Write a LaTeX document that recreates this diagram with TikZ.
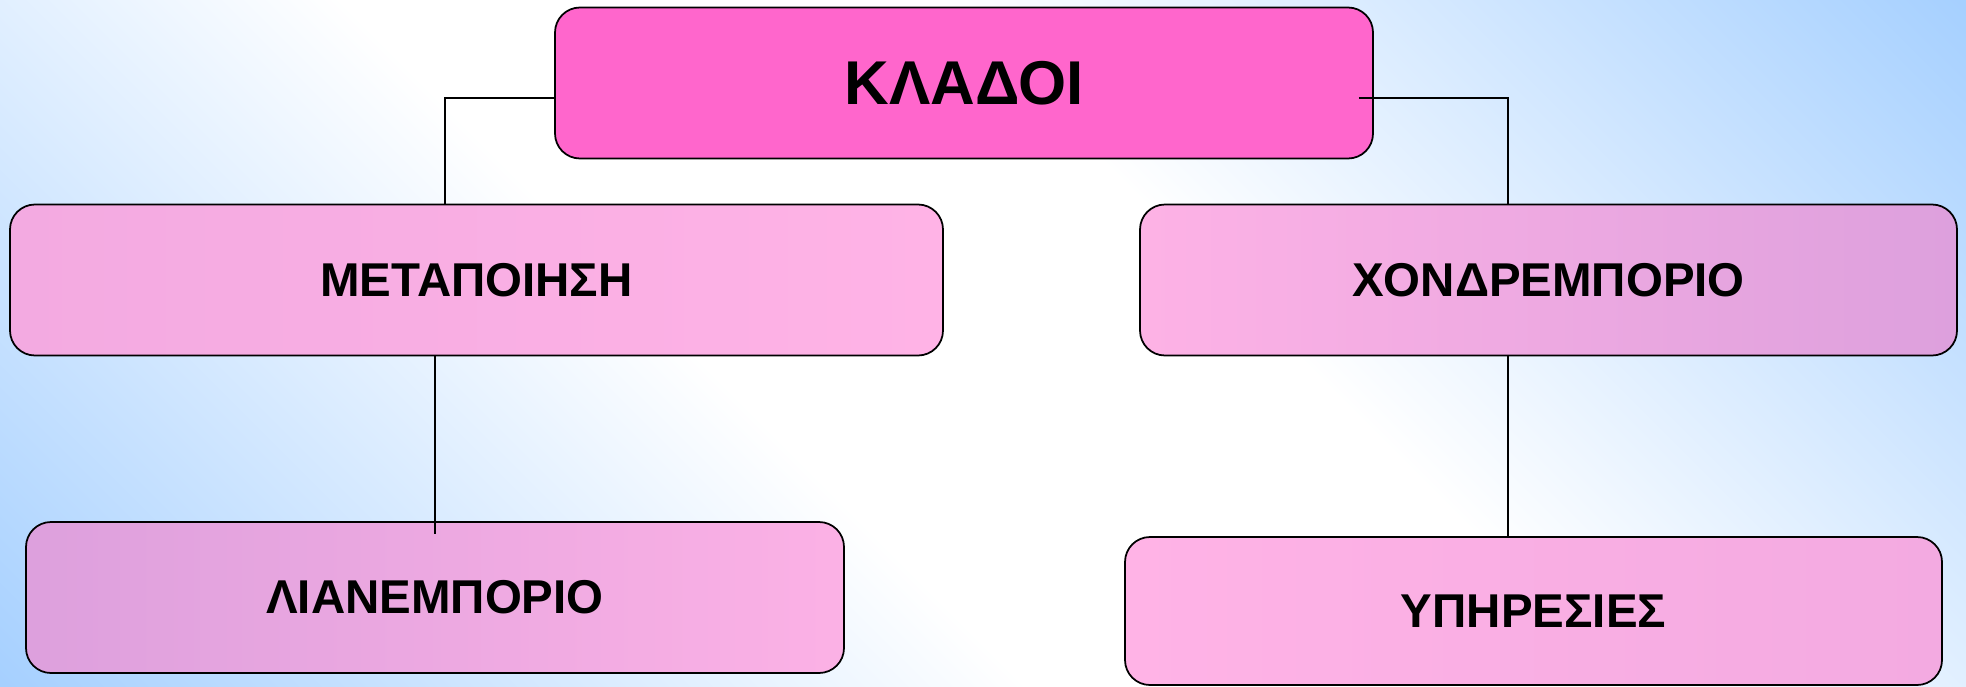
\documentclass[tikz,border=0pt]{standalone}
\usepackage{fontspec}
\setmainfont{Liberation Sans}
\usetikzlibrary{calc}

\definecolor{bgblue}{RGB}{166,208,255}
\definecolor{headpink}{RGB}{255,102,204}
\definecolor{plum}{RGB}{221,160,221}
\definecolor{softpink}{RGB}{255,179,230}
\definecolor{midpink}{RGB}{243,170,225}

\pgfdeclareverticalshading{slideshade}{100bp}{%
  color(0bp)=(bgblue); color(14.6bp)=(bgblue); color(42bp)=(white);
  color(58bp)=(white); color(85.4bp)=(bgblue); color(100bp)=(bgblue)}

\begin{document}
\begin{tikzpicture}[
    branch/.style={draw=black, line width=0.5pt, rounded corners=0.25cm,
      minimum height=1.51cm, inner sep=0pt,
      font=\bfseries\fontsize{13.5}{16}\selectfont},
    conn/.style={draw=black, line width=0.45pt}]
  % --- background ---
  \shade[shading=slideshade, shading angle=-45] (0,0) rectangle (19.66,6.86);
  \useasboundingbox (0,0) rectangle (19.66,6.86);

  % --- boxes ---
  \node[branch, fill=headpink, minimum width=8.18cm,
        font=\bfseries\fontsize{17.6}{20}\selectfont] (kladoi) at (9.64,6.03) {ΚΛΑΔΟΙ};
  \node[branch, left color=midpink, right color=softpink, minimum width=9.33cm]
        (metapoiisi) at (4.765,4.06) {ΜΕΤΑΠΟΙΗΣΗ};
  \node[branch, left color=softpink!95!plum, right color=plum, minimum width=8.17cm]
        (xondr) at (15.485,4.06) {ΧΟΝΔΡΕΜΠΟΡΙΟ};
  \node[branch, left color=plum, right color=softpink!90!plum, minimum width=8.18cm]
        (lianemp) at (4.35,0.885) {ΛΙΑΝΕΜΠΟΡΙΟ};
  \node[branch, left color=softpink, right color=midpink, minimum width=8.17cm,
        minimum height=1.48cm] (ypiresies) at (15.335,0.75) {ΥΠΗΡΕΣΙΕΣ};

  % --- connectors ---
  \draw[conn] ([yshift=-0.15cm]kladoi.west) -| ([xshift=-0.315cm]metapoiisi.north);
  \draw[conn] ([xshift=-0.15cm,yshift=-0.15cm]kladoi.east) -| ([xshift=-0.405cm]xondr.north);
  \draw[conn] (metapoiisi.south -| lianemp.north) -- ([yshift=-0.13cm]lianemp.north);
  \draw[conn] ([xshift=-0.405cm]xondr.south) -- ([xshift=-0.405cm]xondr.south |- ypiresies.north);
\end{tikzpicture}
\end{document}
